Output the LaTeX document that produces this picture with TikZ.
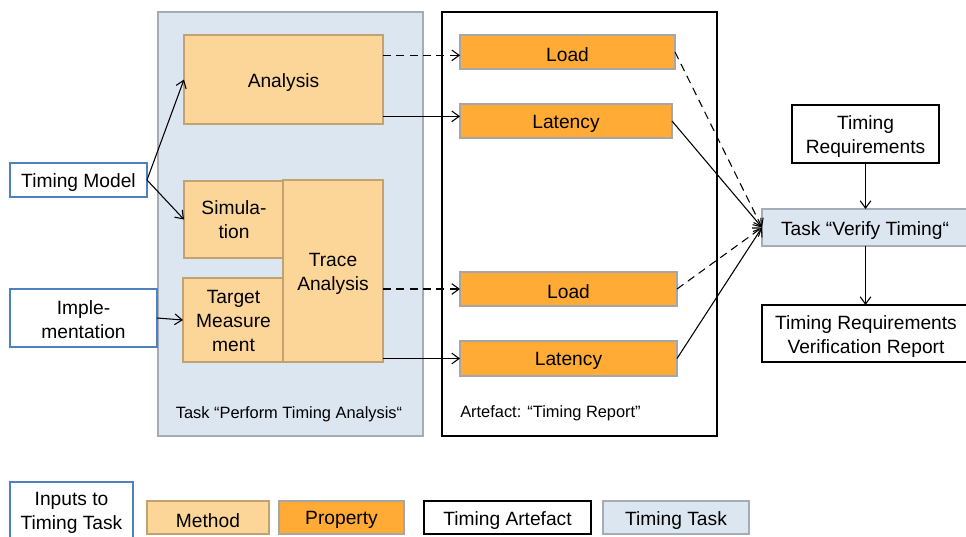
\documentclass[tikz,border=0pt]{standalone}
\usepackage{fontspec}
\setmainfont{Liberation Sans}
\usetikzlibrary{arrows.meta}
\definecolor{methodfill}{HTML}{FCD598}
\definecolor{methodline}{HTML}{C3A272}
\definecolor{propfill}{HTML}{FFAB35}
\definecolor{propline}{HTML}{A6A6A6}
\definecolor{taskfill}{HTML}{DCE6F1}
\definecolor{taskline}{HTML}{A5ACB5}
\definecolor{inputline}{HTML}{4F81BD}
\newcommand\bx[8]{%
  \node[#2, minimum width={(#5-#3)*0.75pt}, minimum height={(#6-#4)*0.75pt}] (#1) at ({(#3+#5)/2},{(#4+#6)/2}) {};%
  \node[boxtext,#8] (#1-text) at (#1.center) {#7};}
\tikzset{
  base/.style={inner sep=0pt, outer sep=0pt},
  boxtext/.style={inner sep=0pt, outer sep=0pt, align=center, yshift=-2pt, font=\fontsize{14.4}{18}\selectfont},
  method/.style={base, fill=methodfill, draw=methodline, line width=1.5pt},
  prop/.style={base, fill=propfill, draw=propline, line width=1.5pt},
  task/.style={base, fill=taskfill, draw=taskline, line width=1.5pt},
  inputbox/.style={base, fill=white, draw=inputline, line width=1.5pt},
  artefact/.style={base, fill=white, draw=black, line width=1.5pt},
  smalllabel/.style={inner sep=0pt, font=\fontsize{12.3}{14}\selectfont},
  conn/.style={line width=0.8pt, -{Straight Barb[length=5.5pt,width=8pt]}},
  dconn/.style={conn, dash pattern=on 6pt off 4pt},
}
\begin{document}
\begin{tikzpicture}[x=0.75pt,y=-0.75pt]
\useasboundingbox (0,0) rectangle (966,536);
% big containers
\bx{taskbox}{task}{158}{12}{423}{436}{}{}
\bx{artbox}{artefact, line width=1.9pt}{442}{12}{717}{436}{}{}
\node[smalllabel] (tasklabel) at (289,414) {Task “Perform Timing Analysis“};
\node[smalllabel, anchor=west] (artlabel) at (460,413) {Artefact: “Timing Report”};
% methods
\bx{analysis}{method}{184}{35}{383}{124}{Analysis}{}
\bx{simulation}{method}{184}{181}{284}{258}{Simula-\\tion}{yshift=2.2pt}
\bx{target}{method}{183}{278}{284}{362}{Target\\Measure\\ment}{yshift=1pt}
\bx{trace}{method}{283}{180}{383}{362}{Trace\\Analysis}{}
% properties
\bx{load1}{prop}{460}{35}{675}{69}{Load}{}
\bx{lat1}{prop}{460}{104}{672}{138}{Latency}{}
\bx{load2}{prop}{460}{272}{677}{306}{Load}{}
\bx{lat2}{prop}{460}{341}{677}{376}{Latency}{}
% inputs
\bx{model}{inputbox}{10}{163}{147}{197}{Timing Model}{}
\bx{impl}{inputbox}{10}{289}{157}{347}{Imple-\\mentation}{yshift=0.7pt}
% right side
\bx{req}{artefact}{792}{105}{939}{163}{Timing\\Requirements}{}
\bx{verify}{task}{762}{209}{968}{246}{Task “Verify Timing“}{}
\bx{report}{artefact}{762}{305}{970}{362}{Timing Requirements\\Verification Report}{}
% legend
\bx{leginput}{inputbox}{10}{482}{133}{539}{Inputs to\\Timing Task}{}
\bx{legmethod}{method}{147}{501}{269}{534}{Method}{}
\bx{legprop}{prop}{279}{501}{404}{534}{Property}{}
\bx{legart}{artefact}{424}{501}{591}{534}{Timing Artefact}{}
\bx{legtask}{task}{603}{501}{749}{534}{Timing Task}{}
% connector end points
\coordinate (load1in) at ([yshift=-2.5pt]load1.west);
\coordinate (lat1in) at ([yshift=3.5pt]lat1.west);
% connectors
\draw[conn] (model.east) -- (analysis.west);
\draw[conn] (model.east) -- (simulation.west);
\draw[conn] (impl.east) -- (target.west);
\draw[dconn] (analysis.east |- load1in) -- (load1in);
\draw[conn] (analysis.east |- lat1in) -- (lat1in);
\draw[dconn] (trace.east |- load2.west) -- (load2.west);
\draw[conn] (trace.east |- lat2.west) -- (lat2.west);
\draw[dconn] (load1.east) -- (verify.west);
\draw[conn] (lat1.east) -- (verify.west);
\draw[dconn] (load2.east) -- (verify.west);
\draw[conn] (lat2.east) -- (verify.west);
\draw[conn] (req.south) -- (verify.north -| req.south);
\draw[conn] (verify.south -| req.south) -- (report.north -| req.south);
\end{tikzpicture}
\end{document}
